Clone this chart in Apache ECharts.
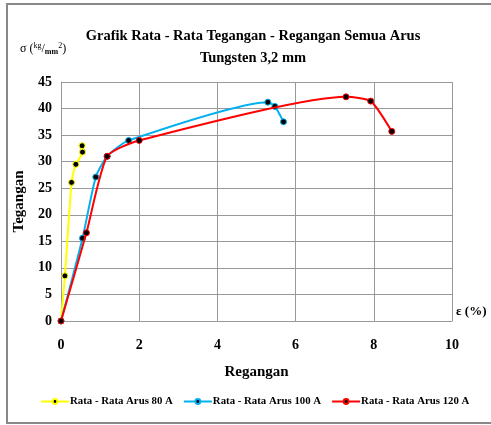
<!DOCTYPE html>
<html>
<head>
<meta charset="utf-8">
<script src="https://cdn.jsdelivr.net/npm/echarts@6/dist/echarts.min.js"></script>
<style>
  html, body { margin: 0; padding: 0; background: #fff; }
  #chart { width: 491px; height: 425px; }
</style>
</head>
<body>
<div id="chart"></div>
<script>
// data (strain %, stress kg/mm2)
const seriesNames = ['Rata - Rata Arus 80 A', 'Rata - Rata Arus 100 A', 'Rata - Rata Arus 120 A'];
const seriesColors = ['#FFFF00', '#00B0F0', '#FF0000'];

const strain80 = [0, 0.10, 0.27, 0.38, 0.55, 0.54];
const stress80 = [0, 8.5, 26.1, 29.5, 31.8, 33.0];

const strain100 = [0, 0.55, 0.89, 1.18, 1.73, 5.29, 5.47, 5.69];
const stress100 = [0, 15.6, 27.1, 31.0, 34.0, 41.2, 40.4, 37.5];

const strain120 = [0, 0.65, 1.18, 2.0, 7.29, 7.92, 8.46];
const stress120 = [0, 16.6, 31.0, 34.0, 42.2, 41.4, 35.7];

const xTicks = [0, 2, 4, 6, 8, 10];
const yTicks = [0, 5, 10, 15, 20, 25, 30, 35, 40, 45];

const serif = '"Liberation Serif", "DejaVu Serif", serif';

let zip = (xs, ys) => xs.map((x, i) => [x, ys[i]]);
let allData = [zip(strain80, stress80), zip(strain100, stress100), zip(strain120, stress120)];

let myChart = echarts.init(document.getElementById('chart'));
let option;

option = {
  backgroundColor: '#fff',
  animation: false,
  title: {
    text: 'Grafik Rata - Rata Tegangan - Regangan Semua Arus\nTungsten 3,2 mm',
    left: 248,
    textAlign: 'center',
    top: 20,
    textStyle: { fontFamily: serif, fontWeight: 'bold', fontSize: 14.5, color: '#000', lineHeight: 22 }
  },
  grid: { left: 61, right: 39, top: 82, bottom: 104 },
  legend: {
    bottom: 18,
    left: 40,
    width: 450,
    padding: 0,
    itemWidth: 28,
    itemHeight: 6,
    itemGap: 10,
    textStyle: { fontFamily: serif, fontWeight: 'bold', fontSize: 10.8, color: '#000', padding: [0, 0, 0, -4] },
    data: seriesNames
  },
  xAxis: {
    type: 'value',
    min: xTicks[0],
    max: xTicks[xTicks.length - 1],
    interval: 2,
    name: 'Regangan',
    nameLocation: 'middle',
    nameGap: 44,
    nameTextStyle: { fontFamily: serif, fontWeight: 'bold', fontSize: 15, color: '#000' },
    axisLine: { show: true, lineStyle: { color: '#999' } },
    axisTick: { show: false },
    axisLabel: { fontFamily: serif, fontWeight: 'bold', fontSize: 14, color: '#000', margin: 17 },
    splitLine: { show: true, lineStyle: { color: '#999', width: 1 } }
  },
  yAxis: {
    type: 'value',
    min: yTicks[0],
    max: yTicks[yTicks.length - 1],
    interval: 5,
    name: 'Tegangan',
    nameLocation: 'middle',
    nameGap: 32,
    nameRotate: 90,
    nameTextStyle: { fontFamily: serif, fontWeight: 'bold', fontSize: 15, color: '#000' },
    axisLine: { show: true, lineStyle: { color: '#999' } },
    axisTick: { show: false },
    axisLabel: { fontFamily: serif, fontWeight: 'bold', fontSize: 14, color: '#000', margin: 9 },
    splitLine: { show: true, lineStyle: { color: '#999', width: 1 } }
  },
  graphic: [
    {
      type: 'rect',
      shape: { x: 7, y: 4, width: 490, height: 419 },
      style: { fill: 'none', stroke: '#888', lineWidth: 2 },
      z: -1
    },
    {
      type: 'text',
      left: 20,
      top: 42,
      style: {
        text: '{b|σ (}{s|kg}{b|/}{u|mm}{s|2}{b|)}',
        rich: {
          b: { fontFamily: serif, fontSize: 12, fill: '#000', verticalAlign: 'middle' },
          s: { fontFamily: serif, fontSize: 8, fill: '#000', padding: [0, 0, 6, 0] },
          u: { fontFamily: serif, fontSize: 8, fontWeight: 'bold', fill: '#000', padding: [6, 0, 0, 0] }
        }
      }
    },
    {
      type: 'text',
      left: 456,
      top: 305,
      style: {
        text: 'ε (%)',
        fontFamily: serif,
        fontSize: 13,
        fontWeight: 'bold',
        fill: '#000'
      }
    }
  ],
  series: seriesNames.map((name, i) => ({
    name: name,
    type: 'line',
    smooth: 0.2,
    data: allData[i],
    symbol: 'circle',
    symbolSize: 6,
    showSymbol: true,
    lineStyle: { color: seriesColors[i], width: 2 },
    itemStyle: { color: '#000', borderColor: seriesColors[i], borderWidth: 1 },
    z: 2 + i
  }))
};

option && myChart.setOption(option);
</script>
</body>
</html>
